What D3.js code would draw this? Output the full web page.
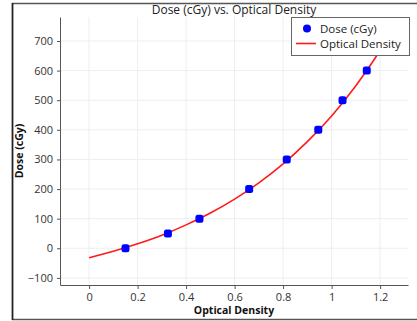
<!DOCTYPE html>
<html lang="en">
<head>
  <meta charset="UTF-8">
  <title>Dose vs. Optical Density</title>
  <script src="https://cdn.jsdelivr.net/npm/d3@7"></script>
  <style>
    body { margin: 0; background: #fff; }
    svg text { font-family: "Open Sans", "DejaVu Sans", sans-serif; }
  </style>
</head>
<body>
<div id="chart"></div>
<script type="text/javascript">
  // measured dose points
  var density = [0.15, 0.325, 0.455, 0.66, 0.815, 0.945, 1.045, 1.145];
  var dose = [0, 50, 100, 200, 300, 400, 500, 600];
  // fitted curve
  var fitX = [0, 0.1, 0.2, 0.3, 0.4, 0.5, 0.6, 0.7, 0.8, 0.9, 1.0, 1.1, 1.2, 1.3];
  var fitY = [-32, -10, 15, 44, 79, 119, 166, 221, 285, 360, 447, 549, 668, 807];
  var xTicks = [0, 0.2, 0.4, 0.6, 0.8, 1, 1.2];
  var yTicks = [-100, 0, 100, 200, 300, 400, 500, 600, 700];

  var width = 417, height = 321;
  var plotLeft = 60, plotRight = 408, plotTop = 17, plotBottom = 285;

  var svg = d3.select("#chart").append("svg")
    .attr("width", width)
    .attr("height", height);

  // outer frame
  svg.append("rect")
    .attr("x", 12.5).attr("y", 3.5)
    .attr("width", 420).attr("height", 316)
    .attr("fill", "none")
    .attr("stroke", "#555")
    .attr("stroke-width", 1.5);
  svg.append("line")
    .attr("x1", 12.5).attr("x2", 12.5).attr("y1", 3).attr("y2", 320)
    .attr("stroke", "#222").attr("stroke-width", 1.5);

  var x = d3.scaleLinear().domain([-0.12, 1.315]).range([plotLeft, plotRight]);
  var y = d3.scaleLinear().domain([-124, 781]).range([plotBottom, plotTop]);

  // grid
  svg.append("g").selectAll("line").data(xTicks).join("line")
    .attr("x1", d => x(d)).attr("x2", d => x(d))
    .attr("y1", plotTop).attr("y2", plotBottom)
    .attr("stroke", "#eee");
  svg.append("g").selectAll("line").data(yTicks).join("line")
    .attr("x1", plotLeft).attr("x2", plotRight)
    .attr("y1", d => y(d)).attr("y2", d => y(d))
    .attr("stroke", "#eee");

  // axes
  var xAxis = svg.append("g")
    .attr("transform", "translate(0," + plotBottom + ")")
    .call(d3.axisBottom(x).tickValues(xTicks).tickSize(4).tickPadding(4)
      .tickFormat(d3.format("~g")).tickSizeOuter(0));
  var yAxis = svg.append("g")
    .attr("transform", "translate(" + plotLeft + ",0)")
    .call(d3.axisLeft(y).tickValues(yTicks).tickSize(3).tickPadding(4).tickSizeOuter(0));
  [xAxis, yAxis].forEach(function(a) {
    a.select(".domain").attr("stroke", "#555");
    a.selectAll(".tick line").attr("stroke", "#555");
    a.selectAll("text").attr("fill", "#333").style("font-size", "11px");
  });

  // clip for the curve
  svg.append("clipPath").attr("id", "plotclip")
    .append("rect").attr("x", plotLeft).attr("y", plotTop)
    .attr("width", plotRight - plotLeft).attr("height", plotBottom - plotTop);

  var line = d3.line()
    .x(d => x(d[0])).y(d => y(d[1]))
    .curve(d3.curveCatmullRom);
  svg.append("path")
    .datum(d3.zip(fitX, fitY))
    .attr("clip-path", "url(#plotclip)")
    .attr("d", line)
    .attr("fill", "none")
    .attr("stroke", "#ff1a1a")
    .attr("stroke-width", 1.6);

  // points
  svg.append("g").selectAll("rect").data(d3.zip(density, dose)).join("rect")
    .attr("x", d => x(d[0]) - 4).attr("y", d => y(d[1]) - 4)
    .attr("width", 8).attr("height", 8)
    .attr("rx", 2.5)
    .attr("fill", "#0000ff");

  // titles
  svg.append("text")
    .attr("x", (plotLeft + plotRight) / 2).attr("y", 14)
    .attr("text-anchor", "middle")
    .style("font-size", "12px")
    .attr("fill", "#222")
    .text("Dose (cGy) vs. Optical Density");
  svg.append("text")
    .attr("x", (plotLeft + plotRight) / 2).attr("y", 314)
    .attr("text-anchor", "middle")
    .style("font-size", "10.5px").style("font-weight", "bold")
    .attr("fill", "#111")
    .text("Optical Density");
  svg.append("text")
    .attr("transform", "translate(23," + (plotTop + plotBottom) / 2 + ") rotate(-90)")
    .attr("text-anchor", "middle")
    .style("font-size", "10.5px").style("font-weight", "bold")
    .attr("fill", "#111")
    .text("Dose (cGy)");

  // legend
  var lg = svg.append("g").attr("transform", "translate(291,17)");
  lg.append("rect")
    .attr("x", 0.5).attr("y", 0.5)
    .attr("width", 118).attr("height", 38)
    .attr("fill", "#fff")
    .attr("stroke", "#666");
  lg.append("circle").attr("cx", 16).attr("cy", 11.5).attr("r", 4).attr("fill", "#0000ff");
  lg.append("line").attr("x1", 5).attr("x2", 25).attr("y1", 26.5).attr("y2", 26.5)
    .attr("stroke", "#ff1a1a").attr("stroke-width", 1.6);
  lg.append("text").attr("x", 29).attr("y", 15.5).style("font-size", "11.5px").attr("fill", "#222").text("Dose (cGy)");
  lg.append("text").attr("x", 29).attr("y", 30.5).style("font-size", "11.5px").attr("fill", "#222").text("Optical Density");
</script>
</body>
</html>
